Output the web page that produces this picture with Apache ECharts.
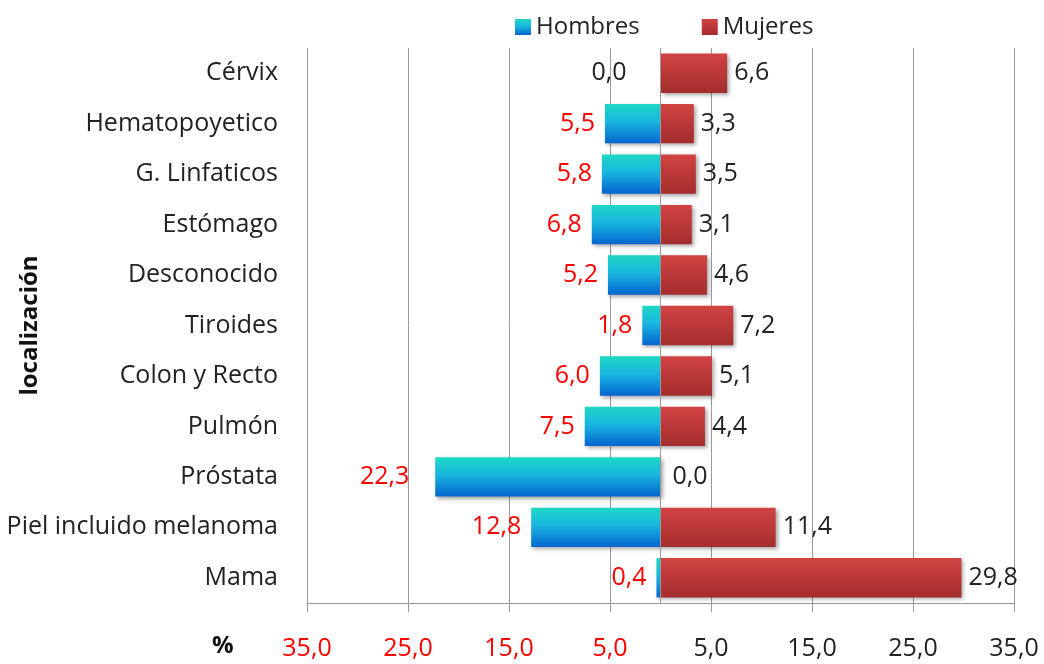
<!DOCTYPE html>
<html><head><meta charset="utf-8">
<script src="https://cdn.jsdelivr.net/npm/echarts@6/dist/echarts.min.js"></script>
<style>html,body{margin:0;padding:0;background:#fff}#c{width:1044px;height:664px}</style>
</head><body><div id="c"></div>
<script>
const categories = ['Cérvix','Hematopoyetico','G. Linfaticos','Estómago','Desconocido','Tiroides','Colon y Recto','Pulmón','Próstata','Piel incluido melanoma','Mama'];
const hombres = [0.0,5.5,5.8,6.8,5.2,1.8,6.0,7.5,22.3,12.8,0.4];
const mujeres = [6.6,3.3,3.5,3.1,4.6,7.2,5.1,4.4,0.0,11.4,29.8];

const FONT = 'Open Sans';
const chart = echarts.init(document.getElementById('c'));
const fmt = v => Math.abs(v).toFixed(1).replace('.', ',');
const cats = categories.slice().reverse();
const hData = hombres.slice().reverse().map(v => ({value: -v, label: {color: v === 0 ? '#222' : '#ff0000', distance: v === 0 ? 34 : (v > 20 ? 26 : 10)}}));
const mData = mujeres.slice().reverse().map(v => ({value: v, label: {distance: v === 0 ? 12 : 7}}));

chart.setOption({
  animation: false,
  textStyle: {fontFamily: FONT},
  legend: {
    top: 10, left: 510, itemWidth: 16, itemHeight: 16, itemGap: 62, icon: 'rect',
    textStyle: {fontSize: 24, color: '#222', fontFamily: FONT},
    data: ['Hombres', 'Mujeres']
  },
  grid: {left: 307, right: 30, top: 48, bottom: 61, containLabel: false, outerBoundsMode: 'none'},
  xAxis: {
    type: 'value', min: -35, max: 35, interval: 10,
    axisLine: {show: true, onZero: false, lineStyle: {color: '#999'}},
    axisTick: {show: true, length: 9, lineStyle: {color: '#999'}},
    splitLine: {show: true, lineStyle: {color: '#999'}},
    axisLabel: {
      margin: 33, fontSize: 25, fontFamily: FONT,
      formatter: v => fmt(v),
      color: v => (v < 0 ? '#ff0000' : '#222')
    }
  },
  yAxis: {
    type: 'category', data: cats,
    name: 'localización', nameLocation: 'middle', nameGap: 265, nameRotate: 90, nameMoveOverlap: false,
    nameTextStyle: {fontSize: 24, fontWeight: 'bold', color: '#111', fontFamily: FONT},
    axisLine: {show: false, onZero: false},
    axisTick: {show: false},
    axisLabel: {fontSize: 25, color: '#222', margin: 29, fontFamily: FONT}
  },
  graphic: [{type: 'text', left: 212, top: 634, style: {text: '%', fontSize: 24, fontWeight: 'bold', fill: '#111', fontFamily: FONT}}],
  series: [
    {
      name: 'Hombres', type: 'bar', barGap: '-100%', barWidth: '78%', data: hData,
      itemStyle: {
        color: new echarts.graphic.LinearGradient(0, 0, 0, 1, [
          {offset: 0, color: '#1DD8C4'}, {offset: 0.45, color: '#19B6E0'}, {offset: 1, color: '#0464CE'}
        ]),
        shadowColor: 'rgba(0,0,0,0.35)', shadowBlur: 4, shadowOffsetX: 2, shadowOffsetY: 2
      },
      label: {show: true, position: 'left', fontSize: 25, fontFamily: FONT, formatter: p => fmt(p.value)},
      markLine: {silent: true, symbol: 'none', label: {show: false}, lineStyle: {color: '#999', type: 'solid', width: 1}, data: [{xAxis: 0}]}
    },
    {
      name: 'Mujeres', type: 'bar', barGap: '-100%', barWidth: '78%', data: mData,
      itemStyle: {
        color: new echarts.graphic.LinearGradient(0, 0, 0, 1, [
          {offset: 0, color: '#D24343'}, {offset: 1, color: '#A42D2D'}
        ]),
        shadowColor: 'rgba(0,0,0,0.35)', shadowBlur: 4, shadowOffsetX: 2, shadowOffsetY: 2
      },
      label: {show: true, position: 'right', fontSize: 25, color: '#222', fontFamily: FONT, formatter: p => fmt(p.value)}
    }
  ]
});
</script></body></html>
